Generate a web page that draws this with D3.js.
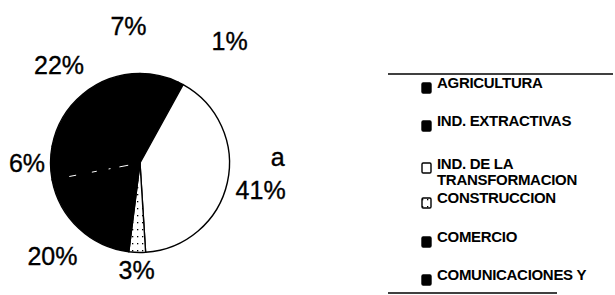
<!DOCTYPE html>
<html>
<head>
<meta charset="utf-8">
<script src="https://cdn.jsdelivr.net/npm/d3@7"></script>
<style>
  html, body { margin: 0; padding: 0; background: #fff; }
  svg { display: block; }
  text { font-family: "Liberation Sans", Arial, sans-serif; fill: #000; }
</style>
</head>
<body>
<svg id="chart" width="615" height="295"></svg>
<script>
// ---- data ----
const categories = ["AGRICULTURA", "IND. EXTRACTIVAS", "IND. DE LA TRANSFORMACION",
                    "CONSTRUCCION", "COMERCIO", "COMUNICACIONES Y TRANSPORTES", "SERVICIOS"];
const shares = [7, 1, 41, 3, 20, 6, 22];
const percentLabels = ["7%", "1%", "41%", "3%", "20%", "6%", "22%"];
const legendLabels = [["AGRICULTURA"], ["IND. EXTRACTIVAS"], ["IND. DE LA", "TRANSFORMACION"],
                      ["CONSTRUCCION"], ["COMERCIO"], ["COMUNICACIONES Y"]];

// ---- drawing ----
const svg = d3.select("#chart");
const defs = svg.append("defs");
const pat = defs.append("pattern").attr("id", "dots")
  .attr("patternUnits", "userSpaceOnUse").attr("width", 5).attr("height", 7);
pat.append("rect").attr("width", 5).attr("height", 7).attr("fill", "#fff");
pat.append("rect").attr("x", 2).attr("y", 3).attr("width", 1.3).attr("height", 1.3).attr("fill", "#000");

const fill = d3.scaleOrdinal().domain(categories)
  .range(["#000", "#000", "#fff", "url(#dots)", "#000", "#000", "#000"]);

const cx = 140, cy = 163, R = 89.5;
const g = svg.append("g").attr("transform", `translate(${cx},${cy})`);

const pie = d3.pie().sort(null).value(d => d.v).startAngle(0).endAngle(2 * Math.PI);
const arcs = pie(categories.map((c, i) => ({ c, v: shares[i], label: percentLabels[i] })));
const arc = d3.arc().innerRadius(0).outerRadius(R);

g.selectAll("path.slice").data(arcs).join("path")
  .attr("class", "slice")
  .attr("d", arc)
  .attr("fill", d => fill(d.data.c))
  .attr("stroke", "#000")
  .attr("stroke-width", 1.4)
  .attr("stroke-linejoin", "round");

// faint white seam between two dark slices (scan artefact)
const seam = arcs[4].endAngle;
g.append("line")
  .attr("x1", Math.sin(seam) * 12).attr("y1", -Math.cos(seam) * 12)
  .attr("x2", Math.sin(seam) * 72).attr("y2", -Math.cos(seam) * 72)
  .attr("stroke", "#fff").attr("stroke-width", 1)
  .attr("stroke-dasharray", "9,9,2,12,5,16");

// ---- percent labels ----
const fs = 25;
const labelInfo = arcs.map(a => {
  const w = a.data.label.length * 0.62 * fs;
  return { a, w, h: 18, ang: (a.startAngle + a.endAngle) / 2, out: 0 };
});
// spread adjacent labels whose angles are too close
const minSep = 40 * Math.PI / 180;
for (let i = 0; i < labelInfo.length - 1; i++) {
  const A = labelInfo[i], B = labelInfo[i + 1];
  if (B.ang - A.ang < minSep * 0.6) {
    const m = (A.ang + B.ang) / 2;
    A.ang = m - minSep / 2 - 0.08; B.ang = m + minSep / 2 - 0.06;
    A.out = 30; B.out = 30;
  }
}
labelInfo.forEach(L => {
  const s = Math.sin(L.ang), c = Math.cos(L.ang);
  const ext = Math.abs(s) * L.w / 2 + Math.abs(c) * L.h / 2;
  const gap = 8 + 8 * Math.pow(Math.sin(2 * L.ang), 2);
  const r = R + gap + ext + L.out;
  L.x = s * r; L.y = -c * r;
});
g.selectAll("text.pct").data(labelInfo).join("text")
  .attr("class", "pct")
  .attr("x", d => d.x).attr("y", d => d.y)
  .attr("dy", "0.36em")
  .attr("text-anchor", "middle")
  .style("font-size", fs + "px")
  .style("stroke", "#000").style("stroke-width", "0.35px")
  .text(d => d.a.data.label);

// stray "a" mark above the 41% label
const big = labelInfo[2];
g.append("text").attr("x", big.x + 17).attr("y", big.y - 24)
  .attr("text-anchor", "middle").style("font-size", fs + "px")
  .style("stroke", "#000").style("stroke-width", "0.35px").text("a");

// ---- legend ----
const lg = svg.append("g");
lg.append("line").attr("x1", 388).attr("x2", 613).attr("y1", 74).attr("y2", 74)
  .attr("stroke", "#000").attr("stroke-width", 1.3);
lg.append("line").attr("x1", 388).attr("x2", 557).attr("y1", 293).attr("y2", 293)
  .attr("stroke", "#000").attr("stroke-width", 1.3);

const rowY = d3.scalePoint().domain(d3.range(legendLabels.length)).range([88, 280]);
const rows = lg.selectAll("g.row").data(legendLabels).join("g")
  .attr("class", "row")
  .attr("transform", (d, i) => `translate(0,${Math.round(rowY(i)) + (d.length > 1 ? 4 : 0)})`);
rows.append("rect")
  .attr("x", 422).attr("y", d => d.length > 1 ? -6 : -5)
  .attr("width", 9).attr("height", 10).attr("rx", 1.2)
  .attr("fill", (d, i) => fill(categories[i]))
  .attr("stroke", "#000").attr("stroke-width", 1.4);
rows.append("text")
  .attr("x", 437)
  .style("font-size", "15px")
  .style("font-weight", "bold")
  .style("letter-spacing", "-0.3px")
  .selectAll("tspan").data(d => d).join("tspan")
  .attr("x", 437).attr("dy", (d, j) => j === 0 ? 0 : 16)
  .text(d => d);
</script>
</body>
</html>
